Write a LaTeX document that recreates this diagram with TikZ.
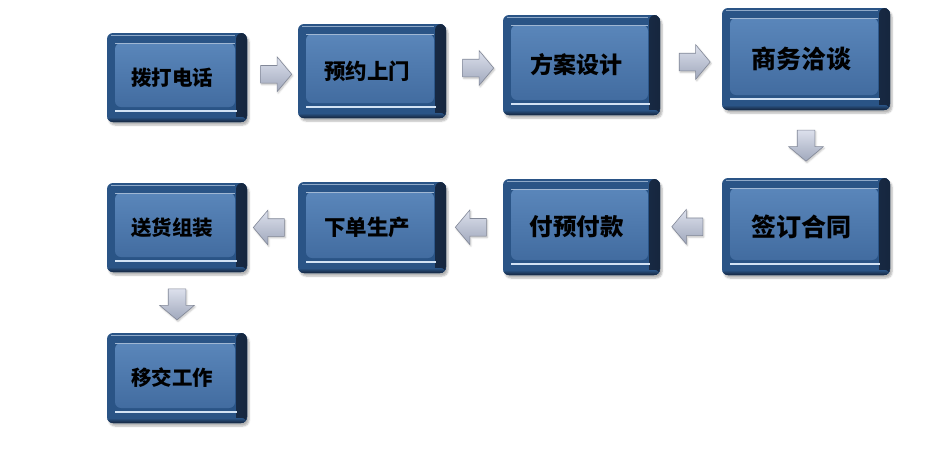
\documentclass[tikz,border=0pt]{standalone}
\usepackage{fontspec}
\newfontfamily\cjk{Noto Sans CJK SC}
\usepackage{tikz}
\usetikzlibrary{shapes.arrows, calc, shadows.blur}
\definecolor{frame}{RGB}{42, 84, 134}
\definecolor{framedark}{RGB}{22, 38, 62}
\definecolor{facetop}{RGB}{90, 134, 186}
\definecolor{facebot}{RGB}{66, 108, 160}
\definecolor{hilite}{RGB}{210, 226, 244}
\definecolor{arrowtop}{RGB}{220, 224, 236}
\definecolor{arrowbot}{RGB}{160, 168, 188}
\definecolor{arrowedge}{RGB}{130, 136, 152}
\tikzset{
    stepbox/.style={rectangle, rounded corners=6pt, fill=frame, text=black, align=center,
        execute at end node={\kern10pt},
        blur shadow={shadow xshift=2pt, shadow yshift=-3pt, shadow blur steps=6, shadow opacity=30},
        path picture={
            \fill[left color=frame, right color=framedark] ($(path picture bounding box.south east)+(-11pt,0pt)$) rectangle (path picture bounding box.north east);
            \fill[top color=frame, bottom color=framedark] ($(path picture bounding box.south west)+(0pt,5pt)$) rectangle (path picture bounding box.south east);
            \fill[top color=facetop, bottom color=facebot] ($(path picture bounding box.south west)+(8pt,15pt)$) rectangle ($(path picture bounding box.north east)+(-12pt,-10pt)$);
            \draw[hilite!70!frame, line width=0.7pt] ($(path picture bounding box.north west)+(8pt,-10pt)$) -- ($(path picture bounding box.north east)+(-12pt,-10pt)$);
            \draw[hilite!60!frame, line width=0.7pt] ($(path picture bounding box.north west)+(4pt,-2.5pt)$) -- ($(path picture bounding box.north east)+(-12pt,-2.5pt)$);
            \draw[hilite, line width=1.6pt] ($(path picture bounding box.south west)+(8pt,11pt)$) -- ($(path picture bounding box.south east)+(-10pt,11pt)$);
        }},
    blockarrow/.style={single arrow, draw=arrowedge, line width=0.6pt, top color=arrowtop, bottom color=arrowbot,
        minimum height=31pt, inner sep=8.5pt, single arrow head extend=8.5pt, single arrow tip angle=100,
        blur shadow={shadow xshift=1pt, shadow yshift=-1.5pt, shadow blur steps=4, shadow opacity=25}}
}
\begin{document}
\begin{tikzpicture}[x=1pt, y=-1pt]
    \useasboundingbox (0,0) rectangle (937,456);
    % first row
    \node[stepbox, minimum width=140pt, minimum height=89pt, font=\cjk\bfseries\fontsize{20.5}{22}\selectfont] (call) at (177,77.5) {拨打电话};
    \node[stepbox, minimum width=148pt, minimum height=94pt, font=\cjk\bfseries\fontsize{21.5}{23}\selectfont] (visit) at (372,71) {预约上门};
    \node[stepbox, minimum width=157pt, minimum height=100pt, font=\cjk\bfseries\fontsize{23}{25}\selectfont] (design) at (581.5,65) {方案设计};
    \node[stepbox, minimum width=168pt, minimum height=102pt, font=\cjk\bfseries\fontsize{25}{27}\selectfont] (talk) at (806,59) {商务洽谈};
    % second row
    \node[stepbox, minimum width=168pt, minimum height=97pt, font=\cjk\bfseries\fontsize{25}{27}\selectfont] (sign) at (806,226.5) {签订合同};
    \node[stepbox, minimum width=157pt, minimum height=96pt, font=\cjk\bfseries\fontsize{23.5}{25}\selectfont] (prepay) at (581.5,227) {付预付款};
    \node[stepbox, minimum width=148pt, minimum height=91pt, font=\cjk\bfseries\fontsize{21.5}{23}\selectfont] (order) at (372,227.5) {下单生产};
    \node[stepbox, minimum width=140pt, minimum height=89pt, font=\cjk\bfseries\fontsize{20.5}{22}\selectfont] (deliver) at (177,227.5) {送货组装};
    % last step
    \node[stepbox, minimum width=140pt, minimum height=90pt, font=\cjk\bfseries\fontsize{20.5}{22}\selectfont] (handover) at (177,378) {移交工作};
    % block arrows between the steps
    \node[blockarrow] (a1) at ($(call.east)!0.5!(visit.west)$) {};
    \node[blockarrow] (a2) at ($(visit.east)!0.5!(design.west)$) {};
    \node[blockarrow] (a3) at ($(design.east)!0.5!(talk.west)$) {};
    \node[blockarrow, shape border rotate=270] (a4) at ($(talk.south)!0.47!(sign.north)$) {};
    \node[blockarrow, shape border rotate=180] (a5) at ($(sign.west)!0.5!(prepay.east)$) {};
    \node[blockarrow, shape border rotate=180] (a6) at ($(prepay.west)!0.5!(order.east)$) {};
    \node[blockarrow, shape border rotate=180] (a7) at ($(order.west)!0.5!(deliver.east)$) {};
    \node[blockarrow, shape border rotate=270] (a8) at ($(deliver.south)!0.47!(handover.north)$) {};
\end{tikzpicture}
\end{document}
